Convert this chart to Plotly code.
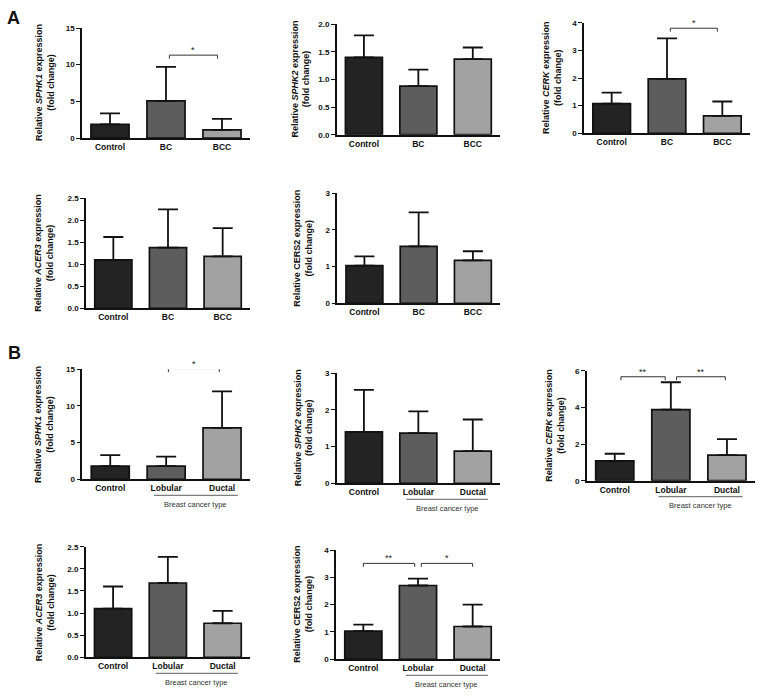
import plotly.graph_objects as go

W, H = 762, 696

# ---------------- data ----------------
groups_A = ["Control", "BC", "BCC"]
groups_B = ["Control", "Lobular", "Ductal"]

A_SPHK1_mean = [1.85, 5.05, 1.1]
A_SPHK1_sd = [1.5, 4.65, 1.5]
A_SPHK2_mean = [1.40, 0.88, 1.37]
A_SPHK2_sd = [0.40, 0.30, 0.21]
A_CERK_mean = [1.07, 1.97, 0.63]
A_CERK_sd = [0.40, 1.46, 0.52]
A_ACER3_mean = [1.10, 1.38, 1.18]
A_ACER3_sd = [0.52, 0.87, 0.64]
A_CERS2_mean = [1.03, 1.55, 1.17]
A_CERS2_sd = [0.25, 0.93, 0.25]

B_SPHK1_mean = [1.8, 1.8, 7.0]
B_SPHK1_sd = [1.5, 1.3, 5.0]
B_SPHK2_mean = [1.40, 1.37, 0.88]
B_SPHK2_sd = [1.15, 0.59, 0.86]
B_CERK_mean = [1.08, 3.88, 1.40]
B_CERK_sd = [0.39, 1.49, 0.87]
B_ACER3_mean = [1.10, 1.68, 0.77]
B_ACER3_sd = [0.50, 0.59, 0.28]
B_CERS2_mean = [1.03, 2.70, 1.20]
B_CERS2_sd = [0.24, 0.25, 0.80]

# significance brackets: (from, to, height, label)
A_SPHK1_sig = [(1.06, 1.92, 11.3, "*")]
A_CERK_sig = [(1.06, 1.91, 3.8, "*")]
B_SPHK1_sig = [(1.04, 1.95, 15.1, "*")]
B_CERK_sig = [(0.11, 0.90, 5.67, "**"), (1.10, 1.97, 5.67, "**")]
B_CERS2_sig = [(0.0, 0.94, 3.51, "**"), (1.06, 2.0, 3.51, "*")]

y_ticks_15 = [0, 5, 10, 15]
y_ticks_2 = [0.0, 0.5, 1.0, 1.5, 2.0]
y_ticks_25 = [0.0, 0.5, 1.0, 1.5, 2.0, 2.5]
y_ticks_3 = [0, 1, 2, 3]
y_ticks_4 = [0, 1, 2, 3, 4]
y_ticks_6 = [0, 2, 4, 6]

# ---------------- styling / layout ----------------
bar_colors = ["#232323", "#5d5d5d", "#a2a2a2"]
FONT = "Liberation Sans, Arial, sans-serif"

# (groups, mean, sd, gene, italic, ticks, fmt, box px (x0,x1,ytop,ybot), title_x px, sig, bct)
panels = [
    (groups_A, A_SPHK1_mean, A_SPHK1_sd, "SPHK1", True, y_ticks_15, "{:d}", (82, 250, 28, 138), 45, A_SPHK1_sig, False),
    (groups_A, A_SPHK2_mean, A_SPHK2_sd, "SPHK2", True, y_ticks_2, "{:.1f}", (336.7, 500, 24.3, 134.7), 300, [], False),
    (groups_A, A_CERK_mean, A_CERK_sd, "CERK", True, y_ticks_4, "{:d}", (584, 750, 22.7, 133.3), 552, A_CERK_sig, False),
    (groups_A, A_ACER3_mean, A_ACER3_sd, "ACER3", True, y_ticks_25, "{:.1f}", (86, 250, 198.3, 308.3), 44.5, [], False),
    (groups_A, A_CERS2_mean, A_CERS2_sd, "CERS2", False, y_ticks_3, "{:d}", (337.3, 500, 193.3, 303.3), 303.5, [], False),
    (groups_B, B_SPHK1_mean, B_SPHK1_sd, "SPHK1", True, y_ticks_15, "{:d}", (82.3, 250, 369.3, 479.3), 44.7, B_SPHK1_sig, True),
    (groups_B, B_SPHK2_mean, B_SPHK2_sd, "SPHK2", True, y_ticks_3, "{:d}", (336.7, 500, 373.3, 483.3), 304, [], True),
    (groups_B, B_CERK_mean, B_CERK_sd, "CERK", True, y_ticks_6, "{:d}", (586.7, 755, 370.7, 480.7), 555, B_CERK_sig, True),
    (groups_B, B_ACER3_mean, B_ACER3_sd, "ACER3", True, y_ticks_25, "{:.1f}", (85.7, 250, 546.7, 657.3), 45.3, [], True),
    (groups_B, B_CERS2_mean, B_CERS2_sd, "CERS2", False, y_ticks_4, "{:d}", (336, 500, 550, 659.3), 303, B_CERS2_sig, True),
]

fig = go.Figure()
layout = dict(
    width=W, height=H, margin=dict(l=0, r=0, t=0, b=0, autoexpand=False),
    paper_bgcolor="white", plot_bgcolor="white", showlegend=False,
    font=dict(family=FONT, color="#111111"),
)
shapes, annotations = [], []

for i, (groups, mean, sd, gene, ital, ticks, fmt, box, tx, sig, bct) in enumerate(panels):
    n = i + 1
    xa = "x" if n == 1 else f"x{n}"
    ya = "y" if n == 1 else f"y{n}"
    x0, x1, yt, yb = box
    ph = yb - yt
    ymax = ticks[-1]
    fig.add_trace(go.Bar(
        x=[0, 1, 2], y=mean, width=0.68, xaxis=xa, yaxis=ya,
        marker=dict(color=bar_colors, line=dict(color="#111111", width=1.7)),
        error_y=dict(type="data", symmetric=False, array=sd, arrayminus=[0, 0, 0],
                     color="#111111", thickness=1.8, width=10),
    ))
    layout["xaxis" if n == 1 else f"xaxis{n}"] = dict(
        domain=[x0 / W, x1 / W], anchor=ya, range=[-0.5, 2.5],
        tickvals=[0, 1, 2], ticktext=groups, ticks="", automargin=False,
        tickfont=dict(size=8.5, family=FONT, weight="bold", color="#111111"),
        showline=True, linecolor="#111111", linewidth=1.5,
        showgrid=False, zeroline=False, fixedrange=True,
    )
    layout["yaxis" if n == 1 else f"yaxis{n}"] = dict(
        domain=[1 - yb / H, 1 - yt / H], anchor=xa, range=[0, ymax], automargin=False,
        tickvals=ticks, ticktext=[fmt.format(t) for t in ticks],
        ticks="outside", ticklen=4, tickwidth=1.3, tickcolor="#111111",
        tickfont=dict(size=8, family=FONT, weight="bold", color="#111111"),
        showline=True, linecolor="#111111", linewidth=1.5,
        showgrid=False, zeroline=False, fixedrange=True,
    )
    g = f"<i>{gene}</i>" if ital else gene
    annotations.append(dict(
        text=f"<b>Relative {g} expression<br>(fold change)</b>",
        xref="paper", yref="paper", x=tx / W, y=1 - (yt + yb) / 2 / H,
        textangle=-90, showarrow=False, xanchor="center", yanchor="middle",
        font=dict(size=9, family=FONT, color="#111111"),
    ))
    tick_d = 3.5 / ph * ymax
    for (a, b, h, lab) in sig:
        for (xa0, ya0, xa1, ya1) in [(a, h, b, h), (a, h, a, h - tick_d), (b, h, b, h - tick_d)]:
            shapes.append(dict(type="line", xref=xa, yref=ya, x0=xa0, y0=ya0, x1=xa1, y1=ya1,
                               line=dict(color="#333333", width=1)))
        annotations.append(dict(
            text=lab, xref=xa, yref=f"{ya} domain", x=(a + b) / 2, y=h / ymax, showarrow=False,
            xanchor="center", yanchor="bottom", yshift=-2,
            font=dict(size=9, family=FONT, color="#222222"),
        ))
    if bct:
        shapes.append(dict(type="line", xref=xa, yref=f"{ya} domain",
                           x0=0.78, x1=2.28, y0=-16 / ph, y1=-16 / ph,
                           line=dict(color="#333333", width=0.8)))
        annotations.append(dict(
            text="Breast cancer type", xref=xa, yref=f"{ya} domain",
            x=1.53, y=-25 / ph, showarrow=False, xanchor="center", yanchor="middle",
            font=dict(size=7.5, family=FONT, color="#333333"),
        ))

annotations.append(dict(text="<b>A</b>", xref="paper", yref="paper", x=13.5 / W, y=1 - 18.5 / H,
                        showarrow=False, xanchor="center", yanchor="middle",
                        font=dict(size=18, family=FONT, color="#111111")))
annotations.append(dict(text="<b>B</b>", xref="paper", yref="paper", x=14.5 / W, y=1 - 353 / H,
                        showarrow=False, xanchor="center", yanchor="middle",
                        font=dict(size=18, family=FONT, color="#111111")))

layout["shapes"] = shapes
layout["annotations"] = annotations
fig.update_layout(**layout)
fig.write_html("out.html", config={"displayModeBar": False},
               post_script="document.body.style.margin='0';document.body.style.overflow='hidden';")
